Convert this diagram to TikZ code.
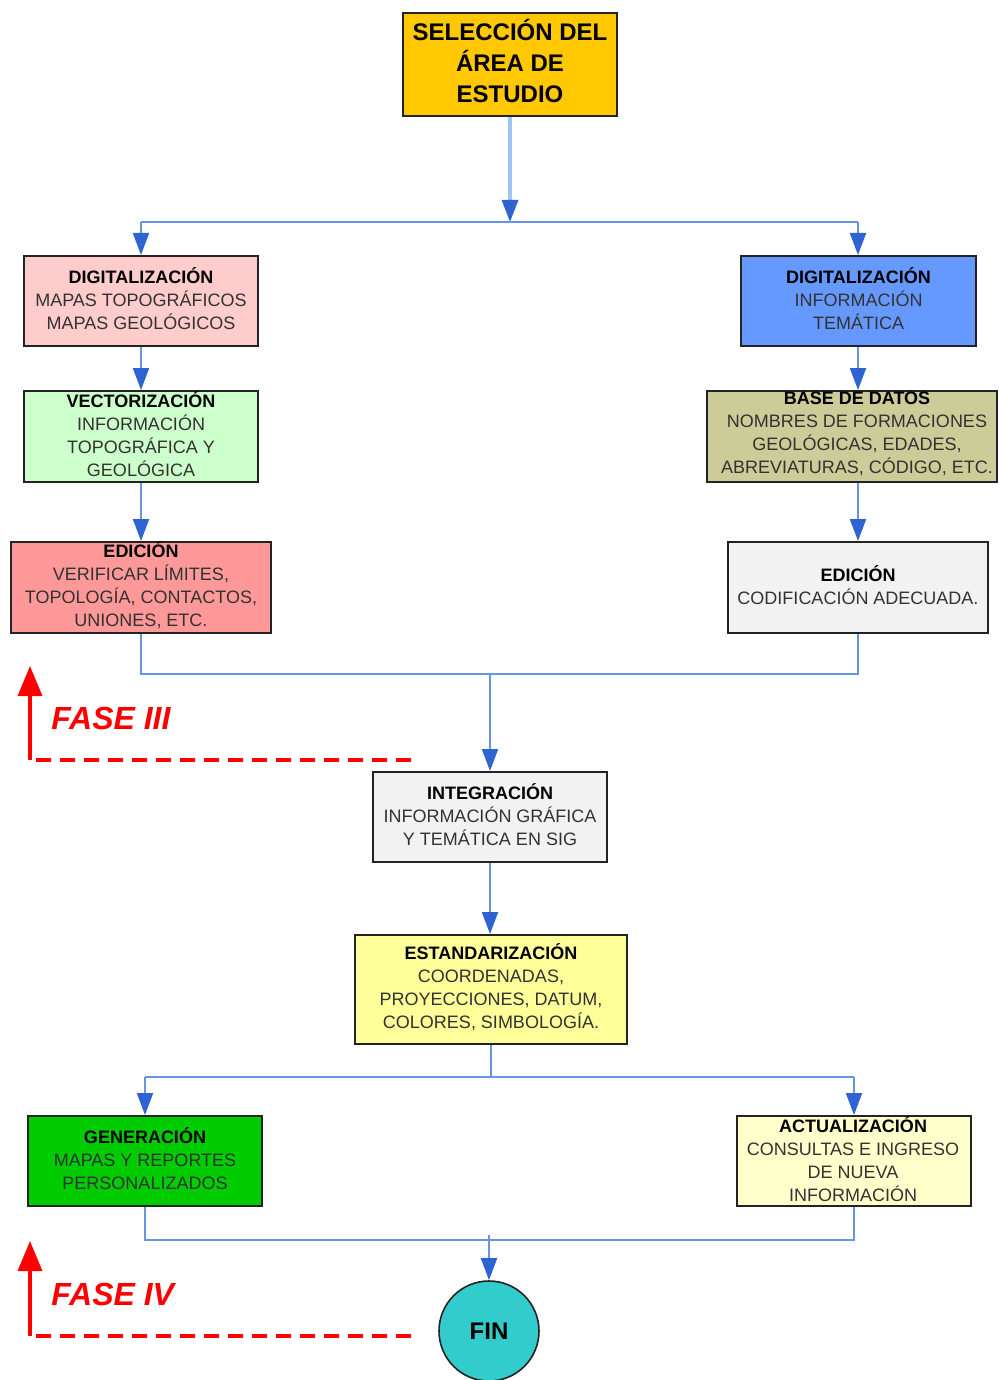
\documentclass[tikz,border=0pt]{standalone}
\usepackage{fontspec}
\setmainfont{Liberation Sans}
\usetikzlibrary{arrows.meta}

\definecolor{boxline}{RGB}{35,35,35}
\definecolor{bodygray}{RGB}{50,50,50}
\definecolor{linkblue}{RGB}{100,150,225}
\definecolor{linkpale}{RGB}{160,196,242}
\definecolor{tipblue}{RGB}{45,100,210}
\definecolor{faseRed}{RGB}{255,0,0}
\definecolor{fillGold}{RGB}{255,200,0}
\definecolor{fillPink}{RGB}{255,204,204}
\definecolor{fillMint}{RGB}{204,255,204}
\definecolor{fillSalmon}{RGB}{255,153,153}
\definecolor{fillBlue}{RGB}{102,153,255}
\definecolor{fillKhaki}{RGB}{204,204,153}
\definecolor{fillLight}{RGB}{242,242,242}
\definecolor{fillYellow}{RGB}{255,255,153}
\definecolor{fillGreen}{RGB}{0,204,0}
\definecolor{fillCream}{RGB}{255,255,204}
\definecolor{fillTeal}{RGB}{51,204,204}

\tikzset{
  stagebox/.style={draw=boxline, line width=1pt, inner sep=0pt},
  stagetext/.style={align=center, inner sep=0pt, text=bodygray,
    font=\fontsize{9}{11.5}\selectfont},
  link/.style={draw=linkblue, line width=1pt},
  feed/.style={draw=linkpale, line width=1.6pt},
  tip/.style={-{Triangle[width=8pt,length=11pt,color=tipblue]}},
  fasearrow/.style={draw=faseRed, line width=1.7pt,
    -{Triangle[width=12pt,length=15pt,color=faseRed]}},
  fasedash/.style={draw=faseRed, line width=1.7pt, dash pattern=on 7.5pt off 4.5pt},
  fasetext/.style={text=faseRed, inner sep=0pt,
    font=\fontsize{16}{19}\selectfont\bfseries\itshape},
}

% box with its own text node: name, x1, y1, x2, y2, fill, text centre x, text
\newcommand\stage[8]{%
  \node[stagebox, fill=#6, minimum width={(#4-#2)*0.5pt}, minimum height={(#5-#3)*0.5pt}]
    (#1) at ({(#2+#4)/2},{(#3+#5)/2}) {};
  \node[stagetext] (#1-txt) at ([yshift=1.2pt]#1.center -| #7,0) {#8};
}
\newcommand\hd[1]{\textbf{\color{black}#1}}

\begin{document}
\begin{tikzpicture}[x=0.5pt, y=-0.5pt]
  \useasboundingbox (0,0) rectangle (998,1380);
  \fill[white] (0,0) rectangle (998,1380);

  % start
  \node[stagebox, fill=fillGold, minimum width=107pt, minimum height=51.5pt]
    (sel) at (510,64.5) {};
  \node[align=center, inner sep=0pt, font=\fontsize{12}{15.5}\selectfont\bfseries]
    (sel-txt) at (510,61) {SELECCIÓN DEL\\ÁREA DE\\ESTUDIO};

  % left branch
  \stage{dig1}{24}{256}{258}{346}{fillPink}{141}{\hd{DIGITALIZACIÓN}\\MAPAS TOPOGRÁFICOS\\MAPAS GEOLÓGICOS}
  \stage{vec}{24}{391}{258}{482}{fillMint}{141}{\hd{VECTORIZACIÓN}\\INFORMACIÓN\\TOPOGRÁFICA Y\\GEOLÓGICA}
  \stage{edi1}{11}{542}{271}{633}{fillSalmon}{141}{\hd{EDICIÓN}\\VERIFICAR LÍMITES,\\TOPOLOGÍA, CONTACTOS,\\UNIONES, ETC.}

  % right branch
  \stage{dig2}{741}{256}{976}{346}{fillBlue}{858.5}{\hd{DIGITALIZACIÓN}\\INFORMACIÓN\\TEMÁTICA}
  \stage{base}{707}{391}{997}{482}{fillKhaki}{857}{\hd{BASE DE DATOS}\\NOMBRES DE FORMACIONES\\GEOLÓGICAS, EDADES,\\ABREVIATURAS, CÓDIGO, ETC.}
  \stage{edi2}{728}{542}{988}{633}{fillLight}{858}{\hd{EDICIÓN}\\CODIFICACIÓN ADECUADA.}

  % common trunk
  \stage{int}{373}{772}{607}{862}{fillLight}{490}{\hd{INTEGRACIÓN}\\INFORMACIÓN GRÁFICA\\Y TEMÁTICA EN SIG}
  \stage{est}{355}{935}{627}{1044}{fillYellow}{491}{\hd{ESTANDARIZACIÓN}\\COORDENADAS,\\PROYECCIONES, DATUM,\\COLORES, SIMBOLOGÍA.}
  \stage{gen}{28}{1116}{262}{1206}{fillGreen}{145}{\hd{GENERACIÓN}\\MAPAS Y REPORTES\\PERSONALIZADOS}
  \stage{act}{737}{1116}{971}{1206}{fillCream}{853}{\hd{ACTUALIZACIÓN}\\CONSULTAS E INGRESO\\DE NUEVA\\INFORMACIÓN}

  \node[circle, draw=boxline, line width=0.8pt, fill=fillTeal, minimum size=50pt,
        inner sep=0pt, font=\fontsize{12}{14}\selectfont\bfseries]
    (fin) at (489,1331) {FIN};

  % connectors
  \coordinate (split1) at (510,222);
  \draw[feed, tip] (sel.south) -- (split1);
  \draw[link] (dig1.north |- split1) -- (858,222) coordinate (split1r);
  \draw[link, tip] (dig1.north |- split1) -- (dig1.north);
  \draw[link, tip] (split1r) -- (split1r |- dig2.north);

  \draw[link, tip] (dig1.south) -- (vec.north);
  \draw[link, tip] (vec.south) -- (edi1.north);
  \draw[link, tip] (split1r |- dig2.south) -- (split1r |- base.north);
  \draw[link, tip] (split1r |- base.south) -- (split1r |- edi2.north);

  \coordinate (merge1) at (int.north |- 0,674);
  \draw[link] (edi1.south) |- (merge1) -| (edi2.south);
  \draw[link, tip] (merge1) -- (int.north);

  \draw[link, tip] (int.south) -- (int.south |- est.north);

  \coordinate (split2) at (est.south |- 0,1077);
  \draw[link] (est.south) -- (split2);
  \draw[link] (gen.north |- split2) -- (act.north |- split2);
  \draw[link, tip] (gen.north |- split2) -- (gen.north);
  \draw[link, tip] (act.north |- split2) -- (act.north);

  \coordinate (merge2) at (fin.north |- 0,1240);
  \coordinate (merge2top) at (fin.north |- 0,1235);
  \draw[link] (gen.south) |- (merge2) -| (act.south);
  \draw[link, tip] (merge2top) -- (fin.north);

  % phase markers
  \coordinate (f3corner) at (30,760);
  \coordinate (f3top) at (30,666);
  \coordinate (f3end) at (416,760);
  \draw[fasearrow] (f3corner) -- (f3top);
  \draw[fasedash] ([xshift=3pt]f3corner) -- (f3end);
  \node[fasetext, anchor=west] (f3label) at (51,718) {FASE III};

  \coordinate (f4corner) at (30,1336);
  \coordinate (f4top) at (30,1241);
  \coordinate (f4end) at (416,1336);
  \draw[fasearrow] (f4corner) -- (f4top);
  \draw[fasedash] ([xshift=3pt]f4corner) -- (f4end);
  \node[fasetext, anchor=west] (f4label) at (51,1294) {FASE IV};
\end{tikzpicture}
\end{document}
